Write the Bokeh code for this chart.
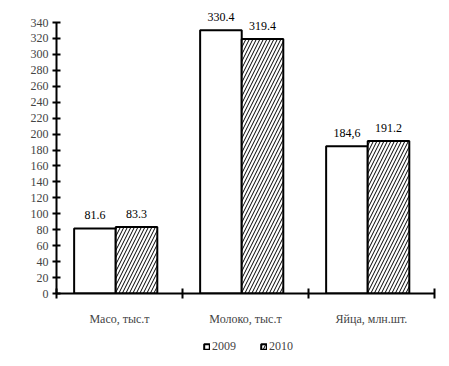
from bokeh.plotting import figure
from bokeh.layouts import column
from bokeh.models import ColumnDataSource, FixedTicker, Range1d, Legend, LegendItem
from bokeh.embed import file_html
from bokeh.resources import INLINE
from bokeh.core.properties import value

categories = ["Масо, тыс.т", "Молоко, тыс.т", "Яйца, млн.шт."]
values_2009 = [81.6, 330.4, 184.6]
values_2010 = [83.3, 319.4, 191.2]
labels_2009 = ["81.6", "330.4", "184,6"]
labels_2010 = ["83.3", "319.4", "191.2"]
series_names = ["2009", "2010"]
y_ticks = list(range(0, 341, 20))

FONT = "Liberation Serif"
HATCH = dict(hatch_pattern="right_diagonal_line", hatch_color="black",
             hatch_scale=7, hatch_weight=1)

idx = list(range(len(categories)))
x09 = [i + 0.305 for i in idx]
x10 = [i + 0.635 for i in idx]

src09 = ColumnDataSource(dict(x=x09, top=values_2009, lab=labels_2009))
src10 = ColumnDataSource(dict(x=x10, top=values_2010, lab=labels_2010))

p = figure(width=441, height=332, output_backend="svg", toolbar_location=None,
           x_range=Range1d(0, 3), y_range=Range1d(0, 362.6),
           min_border_left=56, min_border_right=7, min_border_top=4, min_border_bottom=39)
p.outline_line_color = None
p.grid.visible = False
p.background_fill_color = "white"
p.border_fill_color = "white"

p.vbar(x="x", top="top", width=0.33, source=src09, fill_color="white",
       line_color="black", line_width=2)
p.vbar(x="x", top="top", width=0.33, source=src10, fill_color="white",
       line_color="black", line_width=2, **HATCH)

for s in (src09, src10):
    p.text(x="x", y="top", text="lab", source=s, text_align="center",
           text_baseline="bottom", y_offset=-9, text_font=value(FONT),
           text_font_size="12px", text_color="black")

# y axis
ya = p.yaxis[0]
ya.bounds = (0, 340)
ya.ticker = FixedTicker(ticks=y_ticks)
ya.axis_line_width = 2
ya.major_tick_line_width = 2
ya.major_tick_in = 4
ya.major_tick_out = 4
ya.minor_tick_line_color = None
ya.major_label_text_font = FONT
ya.major_label_text_font_size = "12px"
ya.major_label_standoff = 4

# x axis
xa = p.xaxis[0]
xa.ticker = FixedTicker(ticks=[i + 0.5 for i in idx], minor_ticks=[0, 1, 2, 3])
xa.major_label_overrides = {i + 0.5: c for i, c in zip(idx, categories)}
xa.axis_line_width = 2
xa.major_tick_in = 0
xa.major_tick_out = 0
xa.major_tick_line_color = None
xa.minor_tick_in = 5
xa.minor_tick_out = 5
xa.minor_tick_line_width = 2
xa.minor_tick_line_color = "black"
xa.major_label_text_font = FONT
xa.major_label_text_font_size = "12px"
xa.major_label_standoff = 13

# legend strip (swatch renderers carry no drawable data)
nan = float("nan")
lg = figure(width=441, height=26, output_backend="svg", toolbar_location=None,
            x_range=Range1d(0, 1), y_range=Range1d(0, 1),
            min_border=0, x_axis_location=None, y_axis_location=None)
lg.outline_line_color = None
lg.grid.visible = False
lg.border_fill_color = "white"
lg.background_fill_color = "white"
e09 = lg.vbar(x=[nan], top=[nan], width=0.1, fill_color="white", line_color="black",
              line_width=2)
e10 = lg.vbar(x=[nan], top=[nan], width=0.1, fill_color="white", line_color="black",
              line_width=2, **HATCH)
legend = Legend(items=[LegendItem(label=series_names[0], renderers=[e09]),
                       LegendItem(label=series_names[1], renderers=[e10])],
                orientation="horizontal", location=(147, 4),
                label_text_font=FONT, label_text_font_size="12px",
                label_height=10, glyph_width=7, glyph_height=7, spacing=24,
                padding=4, margin=0, border_line_color=None,
                background_fill_alpha=0, label_standoff=2)
lg.add_layout(legend, "center")

layout = column(p, lg, spacing=0)
open("out.html", "w").write(file_html(layout, INLINE))
